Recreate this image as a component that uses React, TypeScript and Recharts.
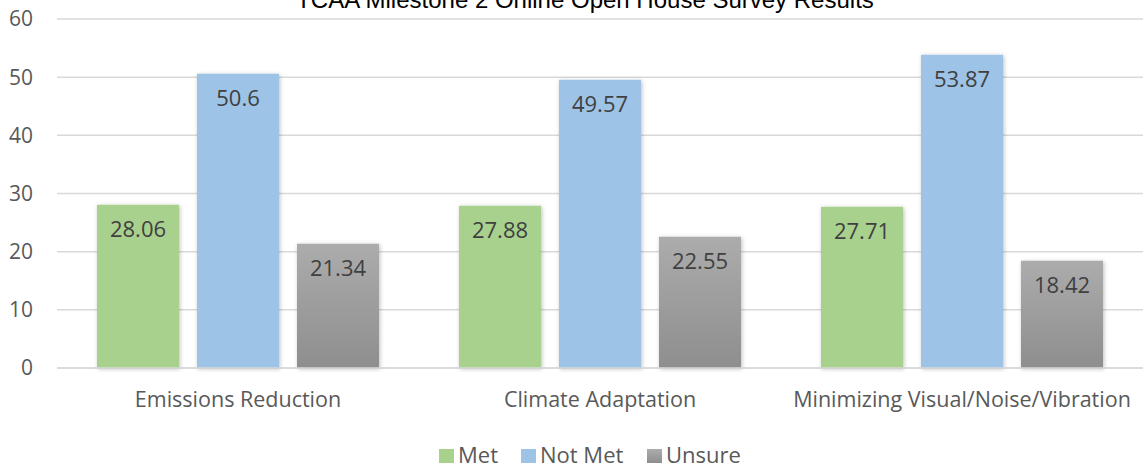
import React from "react";
import {
  BarChart,
  Bar,
  XAxis,
  YAxis,
  CartesianGrid,
  Legend,
  LabelList,
} from "recharts";

const categories = [
  "Emissions Reduction",
  "Climate Adaptation",
  "Minimizing Visual/Noise/Vibration",
];
const met = [28.06, 27.88, 27.71];
const notMet = [50.6, 49.57, 53.87];
const unsure = [21.34, 22.55, 18.42];
const yTicks = [0, 10, 20, 30, 40, 50, 60];

const data = categories.map((name, i) => ({
  name,
  met: met[i],
  notMet: notMet[i],
  unsure: unsure[i],
}));

const FONT = "'Open Sans', sans-serif";
const TEXT = "#595959";

const legendItems = [
  { label: "Met", fill: "#a9d18e", x: 439 },
  { label: "Not Met", fill: "#9dc3e6", x: 521 },
  { label: "Unsure", fill: "url(#grayGradL)", x: 647 },
];

function LegendContent() {
  return (
    <svg width={1143} height={62} style={{ display: "block" }}>
      <defs>
        <linearGradient id="grayGradL" x1="0" y1="0" x2="0" y2="1">
          <stop offset="0%" stopColor="#acacac" />
          <stop offset="100%" stopColor="#8e8e8e" />
        </linearGradient>
      </defs>
      {legendItems.map((item) => (
        <g key={item.label}>
          <rect x={item.x} y={41} width={15} height={14} fill={item.fill} />
          <text
            x={item.x + 19}
            y={55}
            fontSize={22}
            fontFamily={FONT}
            fill={TEXT}
          >
            {item.label}
          </text>
        </g>
      ))}
    </svg>
  );
}

export default function App() {
  return (
    <div
      style={{
        position: "absolute",
        left: 0,
        top: 0,
        width: 1143,
        height: 474,
        background: "#fff",
      }}
    >
      <BarChart
        width={1143}
        height={474}
        data={data}
        margin={{ top: 19, right: 0, bottom: 4, left: 0 }}
        barSize={82}
        barGap={18}
      >
        <defs>
          <linearGradient id="grayGrad" x1="0" y1="0" x2="0" y2="1">
            <stop offset="0%" stopColor="#acacac" />
            <stop offset="100%" stopColor="#8e8e8e" />
          </linearGradient>
          <filter id="shadow" x="-10%" y="-10%" width="130%" height="120%">
            <feDropShadow
              dx="1"
              dy="1"
              stdDeviation="2"
              floodColor="#000"
              floodOpacity="0.25"
            />
          </filter>
        </defs>
        <text
          x={585}
          y={8}
          textAnchor="middle"
          fontSize={24}
          fontFamily="'Liberation Sans', Arial, sans-serif"
          fill="#000"
        >
          TCAA Milestone 2 Online Open House Survey Results
        </text>
        <CartesianGrid vertical={false} stroke="#d9d9d9" strokeWidth={1.5} />
        <XAxis
          dataKey="name"
          height={40}
          tickLine={false}
          axisLine={{ stroke: "#d9d9d9", strokeWidth: 1.5 }}
          tick={{ fontSize: 21.5, fontFamily: FONT, fill: TEXT, dy: 16 }}
          interval={0}
        />
        <YAxis
          domain={[0, 60]}
          ticks={yTicks}
          width={57}
          tickLine={false}
          axisLine={false}
          tick={{ fontSize: 21, fontFamily: FONT, fill: TEXT, dx: -16 }}
        />
        <Legend
          verticalAlign="bottom"
          height={62}
          content={() => <LegendContent />}
        />
        <Bar
          dataKey="met"
          fill="#a9d18e"
          filter="url(#shadow)"
          isAnimationActive={false}
        >
          <LabelList
            dataKey="met"
            position="insideTop"
            offset={17}
            fontSize={22}
            fontFamily={FONT}
            fill="#404040"
          />
        </Bar>
        <Bar
          dataKey="notMet"
          fill="#9dc3e6"
          filter="url(#shadow)"
          isAnimationActive={false}
        >
          <LabelList
            dataKey="notMet"
            position="insideTop"
            offset={17}
            fontSize={22}
            fontFamily={FONT}
            fill="#404040"
          />
        </Bar>
        <Bar
          dataKey="unsure"
          fill="url(#grayGrad)"
          filter="url(#shadow)"
          isAnimationActive={false}
        >
          <LabelList
            dataKey="unsure"
            position="insideTop"
            offset={17}
            fontSize={22}
            fontFamily={FONT}
            fill="#404040"
          />
        </Bar>
      </BarChart>
    </div>
  );
}
